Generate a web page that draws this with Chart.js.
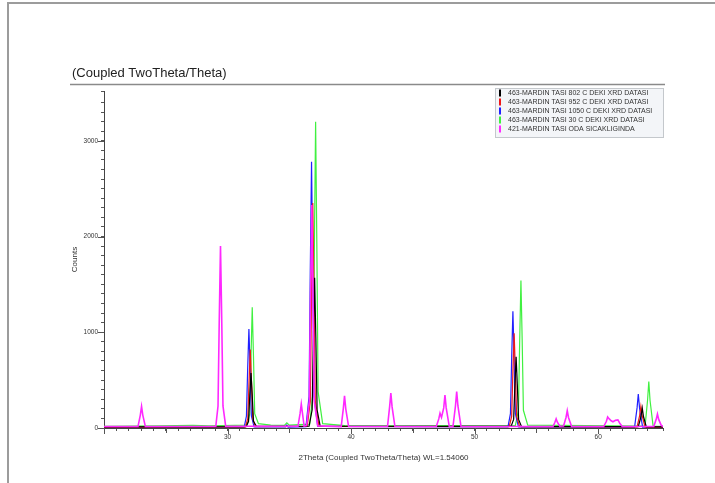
<!DOCTYPE html>
<html>
<head>
<meta charset="utf-8">
<script src="https://cdn.jsdelivr.net/npm/chart.js@4"></script>
<style>
  body { margin: 0; background: #fff; }
  #frame { position: absolute; left: 7px; top: 2px; width: 708px; height: 481px; border-top: 2px solid #9c9c9c; border-left: 2px solid #9c9c9c; }
  #xrd { position: absolute; left: 0; top: 0; }
</style>
</head>
<body>
<div id="frame"></div>
<canvas id="xrd" width="715" height="483"></canvas>
<script>
// series labels and colours (legend order)
const seriesNames = [
    '463-MARDIN TASI 802 C DEKI XRD DATASI',
    '463-MARDIN TASI 952 C DEKI XRD DATASI',
    '463-MARDIN TASI 1050 C DEKI XRD DATASI',
    '463-MARDIN TASI 30 C DEKI XRD DATASI',
    '421-MARDIN TASI ODA SICAKLIGINDA'
];
const seriesColors = ['#000000', '#f01818', '#2020ff', '#40f040', '#ff28ff'];

// [2theta, counts]
const black802 = [
    [20, 12],
    [31.5, 14], [31.7, 70], [31.8, 340], [31.9, 575], [32.0, 340], [32.1, 70], [32.35, 16],
    [36.6, 18], [36.85, 190], [36.95, 930], [37.05, 1570], [37.15, 930], [37.25, 190], [37.5, 20],
    [52.95, 16], [53.16, 90], [53.26, 440], [53.36, 745], [53.46, 440], [53.56, 90], [53.8, 14],
    [63.25, 14], [63.47, 120], [63.57, 210], [63.67, 120], [63.9, 12],
    [65.25, 12]
];
const red952 = [
    [20, 10],
    [31.45, 12], [31.64, 100], [31.74, 480], [31.84, 820], [31.94, 480], [32.04, 100], [32.25, 14],
    [36.45, 16], [36.7, 280], [36.8, 1400], [36.9, 2350], [37.0, 1400], [37.1, 280], [37.4, 18],
    [52.8, 14], [53.0, 120], [53.1, 590], [53.2, 990], [53.3, 590], [53.4, 120], [53.65, 14],
    [63.15, 12], [63.36, 130], [63.46, 225], [63.56, 130], [63.8, 10],
    [65.25, 10]
];
const blue1050 = [
    [20, 8],
    [31.35, 10], [31.53, 125], [31.63, 620], [31.73, 1035], [31.83, 620], [31.93, 125], [32.15, 12],
    [34.7, 12], [34.8, 30], [34.9, 10],
    [36.35, 14], [36.6, 330], [36.7, 1660], [36.8, 2780], [36.9, 1660], [37.0, 330], [37.3, 16],
    [52.7, 12], [52.9, 150], [53.0, 730], [53.1, 1220], [53.2, 730], [53.3, 150], [53.55, 12],
    [62.95, 10], [63.15, 210], [63.25, 355], [63.35, 210], [63.6, 10],
    [65.25, 8]
];
const green30 = [
    [20, 18], [24.5, 22], [27.2, 28], [28.5, 22],
    [31.6, 30], [31.8, 150], [31.9, 750], [32.0, 1260], [32.1, 750], [32.2, 150], [32.5, 45],
    [33.5, 30], [34.6, 28], [34.8, 55], [35.0, 30],
    [36.65, 40], [36.93, 380], [37.03, 1900], [37.13, 3200], [37.23, 1900], [37.33, 380], [37.7, 45],
    [39.5, 25], [43.2, 22],
    [53.3, 28], [53.55, 185], [53.65, 920], [53.75, 1540], [53.85, 920], [53.95, 185], [54.3, 30],
    [63.8, 20], [64.0, 290], [64.1, 485], [64.2, 290], [64.45, 20],
    [65.25, 18]
];
const magentaRoom = [
    [20, 15],
    [22.75, 15], [22.94, 135], [23.04, 225], [23.14, 135], [23.35, 15],
    [29.05, 18], [29.23, 230], [29.33, 1130], [29.43, 1900], [29.53, 1130], [29.63, 230], [29.85, 20],
    [35.7, 18], [35.87, 150], [35.97, 250], [36.07, 150], [36.2, 20],
    [36.4, 25], [36.62, 280], [36.72, 1390], [36.82, 2330], [36.92, 1390], [37.02, 280], [37.3, 22],
    [39.2, 15], [39.37, 200], [39.47, 335], [39.57, 200], [39.8, 15],
    [42.95, 15], [43.12, 220], [43.22, 365], [43.32, 220], [43.55, 15],
    [46.9, 15], [47.1, 95], [47.2, 155], [47.32, 110], [47.5, 210], [47.6, 345], [47.7, 210], [47.95, 15],
    [48.25, 15], [48.45, 230], [48.55, 380], [48.65, 230], [48.9, 15],
    [56.35, 15], [56.5, 60], [56.6, 95], [56.7, 60], [56.9, 18],
    [57.2, 20], [57.4, 110], [57.5, 180], [57.6, 110], [57.85, 15],
    [60.45, 15], [60.67, 70], [60.77, 115], [60.9, 95], [61.05, 75], [61.2, 65], [61.4, 80], [61.6, 85], [61.75, 50], [61.95, 15],
    [64.5, 15], [64.7, 90], [64.8, 145], [64.9, 90], [65.1, 30], [65.25, 15]
];
const seriesData = [black802, red952, blue1050, green30, magentaRoom];
const drawOrder = [1, 2, 3, 4, 0];

const xLabelValues = [30, 40, 50, 60];
const yLabelValues = [0, 1000, 2000, 3000];

const chartTitle = '(Coupled TwoTheta/Theta)';
const xTitle = '2Theta (Coupled TwoTheta/Theta) WL=1.54060';
const yTitle = 'Counts';

const fontFam = '"Liberation Sans", Arial, sans-serif';

const decor = {
    id: 'decor',
    afterDraw(chart) {
        const ctx = chart.ctx;
        const xs = chart.scales.x, ys = chart.scales.y;
        const area = chart.chartArea;
        ctx.save();
        // title and rule
        ctx.fillStyle = '#222';
        ctx.font = '13px ' + fontFam;
        ctx.textBaseline = 'middle';
        ctx.fillText(chartTitle, 72, 73);
        ctx.strokeStyle = '#8a8a8a';
        ctx.lineWidth = 1.5;
        ctx.beginPath();
        ctx.moveTo(70, 84.5);
        ctx.lineTo(area.right + 2, 84.5);
        ctx.stroke();

        // longer ticks at the labelled values
        ctx.strokeStyle = '#555';
        ctx.lineWidth = 1;
        ctx.beginPath();
        xs.ticks.forEach(t => {
            if (t.value % 5 === 0) {
                const px = Math.round(xs.getPixelForValue(t.value)) + 0.5;
                ctx.moveTo(px, area.bottom);
                ctx.lineTo(px, area.bottom + (t.value % 10 === 0 ? 6 : 5));
            }
        });
        yLabelValues.forEach(v => {
            const py = Math.round(ys.getPixelForValue(v)) + 0.5;
            ctx.moveTo(area.left, py);
            ctx.lineTo(area.left - 6, py);
        });
        ctx.stroke();

        // legend box
        const bx = 495, by = 88, bw = 168, bh = 49;
        ctx.fillStyle = '#f3f5f8';
        ctx.fillRect(bx, by, bw, bh);
        ctx.strokeStyle = '#c4c8cc';
        ctx.strokeRect(bx + 0.5, by + 0.5, bw, bh);
        ctx.font = '7px ' + fontFam;
        ctx.textBaseline = 'middle';
        seriesNames.forEach((name, i) => {
            const ry = by + 5 + i * 9;
            ctx.fillStyle = seriesColors[i];
            ctx.fillRect(bx + 4, ry - 3.5, 2, 7);
            ctx.fillStyle = '#333';
            ctx.fillText(name, bx + 13, ry);
        });
        ctx.restore();
    }
};

new Chart(document.getElementById('xrd').getContext('2d'), {
    type: 'line',
    data: {
        datasets: seriesData.map((d, i) => ({
            label: seriesNames[i],
            data: d,
            borderColor: seriesColors[i],
            borderWidth: i === 4 ? 1.6 : 1.2,
            pointRadius: 0,
            tension: 0,
            fill: false,
            order: drawOrder[i]
        }))
    },
    options: {
        responsive: false,
        animation: false,
        layout: { padding: { left: 0, top: 91, right: 52, bottom: 0 } },
        plugins: {
            legend: { display: false },
            tooltip: { enabled: false }
        },
        scales: {
            x: {
                type: 'linear',
                min: 20,
                max: 65.25,
                afterFit(s) { s.height = 55; },
                ticks: {
                    stepSize: 1,
                    autoSkip: false,
                    maxRotation: 0,
                    padding: 2,
                    color: '#333',
                    font: { family: fontFam, size: 6.5 },
                    callback: v => xLabelValues.includes(v) ? String(v) : ''
                },
                grid: { display: true, drawOnChartArea: false, tickLength: 3, tickColor: '#555' },
                border: { display: true, color: '#444', width: 1 },
                title: {
                    display: true,
                    text: xTitle,
                    color: '#333',
                    font: { family: fontFam, size: 8 },
                    padding: { top: 0, bottom: 20 }
                }
            },
            y: {
                min: 0,
                max: 3520,
                afterFit(s) { s.width = 104; },
                ticks: {
                    stepSize: 100,
                    autoSkip: false,
                    padding: 3,
                    color: '#333',
                    font: { family: fontFam, size: 6.5 },
                    callback: v => yLabelValues.includes(v) ? String(v) : ''
                },
                grid: { display: true, drawOnChartArea: false, tickLength: 3, tickColor: '#555' },
                border: { display: true, color: '#444', width: 1 },
                title: {
                    display: true,
                    text: yTitle,
                    color: '#333',
                    font: { family: fontFam, size: 8 },
                    padding: { top: 70, bottom: 0 }
                }
            }
        }
    },
    plugins: [decor]
});
</script>
</body>
</html>
